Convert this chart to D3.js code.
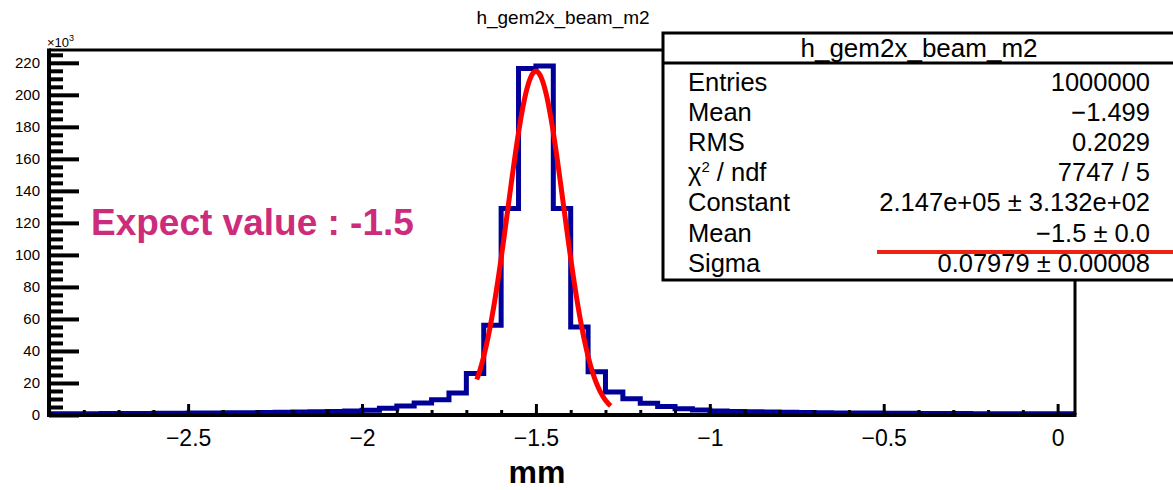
<!DOCTYPE html>
<html>
<head>
<meta charset="utf-8">
<script src="https://cdn.jsdelivr.net/npm/d3@7"></script>
<style>
  body { margin: 0; background: #fff; }
  svg { display: block; font-family: "Liberation Sans", Arial, Helvetica, sans-serif; }
</style>
</head>
<body>
<div id="chart"></div>
<script>
// histogram h_gem2x_beam_m2, 0.05 mm bins, counts in thousands
var binEdges = [-2.9, -2.85, -2.8, -2.75, -2.7, -2.65, -2.6, -2.55, -2.5, -2.45,
  -2.4, -2.35, -2.3, -2.25, -2.2, -2.15, -2.1, -2.05, -2.0, -1.95,
  -1.9, -1.85, -1.8, -1.75, -1.7, -1.65, -1.6, -1.55, -1.5, -1.45,
  -1.4, -1.35, -1.3, -1.25, -1.2, -1.15, -1.1, -1.05, -1.0, -0.95,
  -0.9, -0.85, -0.8, -0.75, -0.7, -0.65, -0.6, -0.55, -0.5, -0.45,
  -0.4, -0.35, -0.3, -0.25, -0.2, -0.15, -0.1, -0.05, 0.0, 0.05];
var counts = [0.8, 0.8, 0.85, 0.9, 0.95, 1.0, 1.05, 1.1, 1.2, 1.25,
  1.35, 1.45, 1.55, 1.7, 1.85, 2.0, 2.2, 2.5, 2.9, 4.2,
  5.6, 7.5, 9.6, 13.8, 26, 56, 129, 216.5, 218, 129,
  55, 27, 14.3, 10.2, 7.3, 5.3, 3.9, 3.1, 2.5, 2.2,
  2.0, 1.8, 1.65, 1.5, 1.4, 1.3, 1.25, 1.2, 1.1, 1.05,
  1.0, 0.95, 0.9, 0.85, 0.85, 0.8, 0.8, 0.75, 0.75];

// gaus fit: constant, mean, sigma and drawn range
var fitParams = [214.7, -1.5, 0.07979];
var fitRange = [-1.67, -1.285];

var xTicks = [-2.5, -2, -1.5, -1, -0.5, 0];
var yTicks = [0, 20, 40, 60, 80, 100, 120, 140, 160, 180, 200, 220];

var statsTitle = "h_gem2x_beam_m2";
var statsLabels = ["Entries", "Mean", "RMS", "χ² / ndf", "Constant", "Mean", "Sigma"];
var statsValues = ["1000000", "−1.499", "0.2029", "7747 / 5", "2.147e+05 ± 3.132e+02", "−1.5 ± 0.0", "0.07979 ± 0.00008"];

var width = 1173, height = 490;
var frame = {left: 49, right: 1075, top: 50, bottom: 415};

var svg = d3.select("#chart").append("svg")
    .attr("width", width)
    .attr("height", height);

var x = d3.scaleLinear().domain([-2.9, 0.05]).range([frame.left, frame.right]);
var y = d3.scaleLinear().domain([0, 228]).range([frame.bottom, frame.top]);

// title
svg.append("text")
    .attr("x", 563).attr("y", 24)
    .attr("text-anchor", "middle")
    .style("font-size", "19px")
    .text("h_gem2x_beam_m2");

// histogram outline
var steps = [];
counts.forEach((c, i) => {
    steps.push([binEdges[i], c]);
    steps.push([binEdges[i + 1], c]);
});
svg.append("path")
    .datum(steps)
    .attr("fill", "none")
    .attr("stroke", "#000099")
    .attr("stroke-width", 5)
    .attr("d", d3.line().x(d => x(d[0])).y(d => y(d[1])));

// fit curve
var gaus = v => fitParams[0] * Math.exp(-0.5 * Math.pow((v - fitParams[1]) / fitParams[2], 2));
var fitPts = d3.range(fitRange[0], fitRange[1] + 1e-9, (fitRange[1] - fitRange[0]) / 200).map(v => [v, gaus(v)]);
svg.append("path")
    .datum(fitPts)
    .attr("fill", "none")
    .attr("stroke", "#ff0000")
    .attr("stroke-width", 5)
    .attr("stroke-linecap", "butt")
    .attr("d", d3.line().x(d => x(d[0])).y(d => y(d[1])));

// x axis
var xMinor = d3.range(-28, 1).map(d => d / 10).filter(d => Math.abs(d * 2 - Math.round(d * 2)) > 1e-6);
svg.append("g")
    .attr("transform", `translate(0,${frame.bottom})`)
    .call(d3.axisBottom(x).tickValues(xMinor).tickSizeInner(-5).tickSizeOuter(0).tickFormat(""))
    .call(g => g.selectAll("line").attr("stroke-width", 3))
    .call(g => g.select(".domain").remove());
svg.append("g")
    .attr("transform", `translate(0,${frame.bottom})`)
    .call(d3.axisBottom(x).tickValues(xTicks).tickSizeInner(-11).tickSizeOuter(0)
        .tickPadding(15).tickFormat(d3.format("~g")))
    .call(g => g.selectAll("line").attr("stroke-width", 3))
    .call(g => g.selectAll("text").style("font-size", "23px").attr("fill", "#000")
        .style("font-family", "'Liberation Sans', Arial, sans-serif"))
    .call(g => g.select(".domain").remove());

// y axis
var yMinor = d3.range(5, 226, 5).filter(d => d % 20 !== 0);
svg.append("g")
    .attr("transform", `translate(${frame.left},0)`)
    .call(d3.axisLeft(y).tickValues(yMinor).tickSizeInner(-14).tickSizeOuter(0).tickFormat(""))
    .call(g => g.selectAll("line").attr("stroke-width", 4))
    .call(g => g.select(".domain").remove());
svg.append("g")
    .attr("transform", `translate(${frame.left},0)`)
    .call(d3.axisLeft(y).tickValues(yTicks).tickSizeInner(-30).tickSizeOuter(0).tickPadding(9))
    .call(g => g.selectAll("line").attr("stroke-width", 4))
    .call(g => g.selectAll("text").style("font-size", "15px").attr("fill", "#000")
        .style("font-family", "'Liberation Sans', Arial, sans-serif"))
    .call(g => g.select(".domain").remove());

// frame
svg.append("path")
    .attr("fill", "none").attr("stroke", "#000").attr("stroke-width", 3)
    .attr("d", `M${frame.left},${frame.top}H${frame.right}V${frame.bottom}`);
svg.append("path")
    .attr("fill", "none").attr("stroke", "#000").attr("stroke-width", 4)
    .attr("d", `M${frame.left},${frame.top - 1.5}V${frame.bottom}H${frame.right + 1.5}`);

// x10^3
var exp = svg.append("text").attr("x", 47).attr("y", 47).style("font-size", "13px");
exp.append("tspan").text("×10");
exp.append("tspan").attr("dy", -6).style("font-size", "9px").text("3");

// axis title
svg.append("text")
    .attr("x", 537).attr("y", 483)
    .attr("text-anchor", "middle")
    .style("font-size", "32px").style("font-weight", "bold")
    .text("mm");

// annotation
svg.append("text")
    .attr("x", 91).attr("y", 235)
    .style("font-size", "37px").style("font-weight", "bold")
    .attr("fill", "#cd2c7c")
    .text("Expect value : -1.5");

// stats box
var box = {x: 663, y: 33, w: 530, h: 247};
svg.append("rect")
    .attr("x", box.x).attr("y", box.y).attr("width", box.w).attr("height", box.h)
    .attr("fill", "#fff").attr("stroke", "#000").attr("stroke-width", 3);
svg.append("line")
    .attr("x1", box.x).attr("x2", box.x + box.w).attr("y1", 63).attr("y2", 63)
    .attr("stroke", "#000").attr("stroke-width", 3);
svg.append("text")
    .attr("x", 919).attr("y", 57)
    .attr("text-anchor", "middle")
    .style("font-size", "26px")
    .text(statsTitle);
var rows = svg.append("g").style("font-size", "25.5px");
statsLabels.forEach((lab, i) => {
    var yy = 91 + i * 30.1;
    var t = rows.append("text").attr("x", 688).attr("y", yy);
    if (lab.startsWith("χ")) {
        t.append("tspan").text("χ");
        t.append("tspan").attr("dy", -9).style("font-size", "15px").text("2");
        t.append("tspan").attr("dy", 9).text(" / ndf");
    } else {
        t.text(lab);
    }
    rows.append("text").attr("x", 1150).attr("y", yy)
        .attr("text-anchor", "end")
        .text(statsValues[i]);
});

// red underline
svg.append("line")
    .attr("x1", 877).attr("x2", 1173).attr("y1", 252).attr("y2", 252)
    .attr("stroke", "#ee2211").attr("stroke-width", 4);
</script>
</body>
</html>
